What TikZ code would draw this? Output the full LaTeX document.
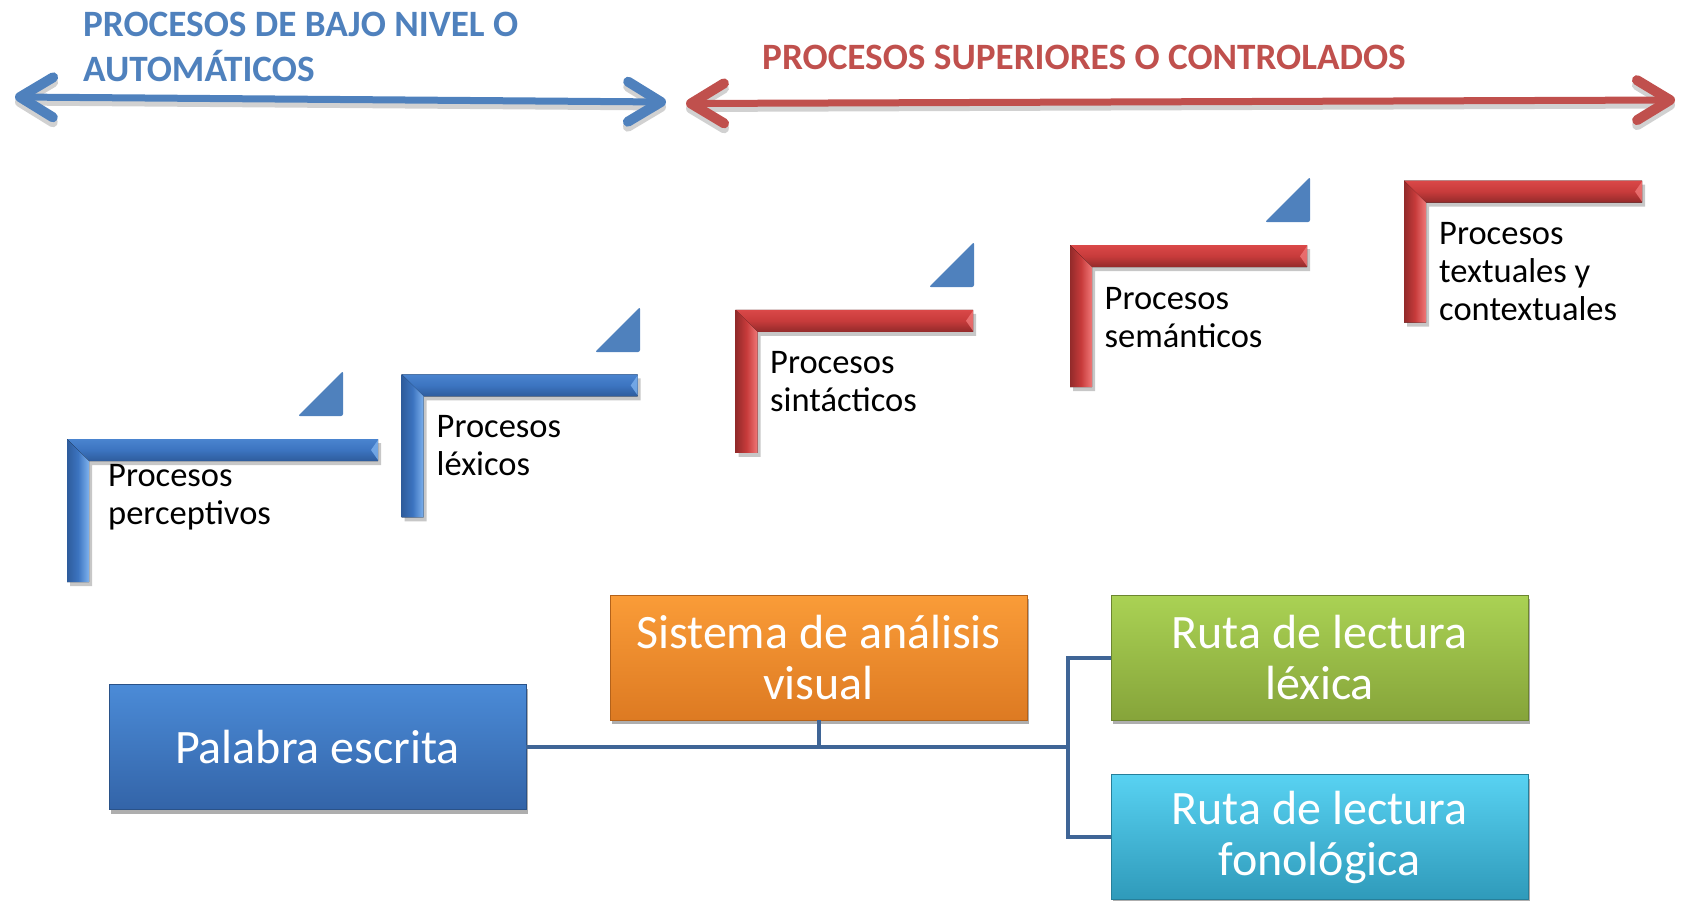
\documentclass[tikz,border=0pt]{standalone}
\usepackage{fontspec}
\setmainfont{Carlito}
\usetikzlibrary{arrows.meta,shadows}
\definecolor{hblue}{HTML}{4F81BD}
\definecolor{hred}{HTML}{C0504D}
\definecolor{bmain}{HTML}{3C74C0}
\definecolor{blight}{HTML}{4A84CF}
\definecolor{bdark}{HTML}{2E5C9C}
\definecolor{bhi}{HTML}{7EB2EE}
\definecolor{rmain}{HTML}{C73B3B}
\definecolor{rlight}{HTML}{DA4848}
\definecolor{rdark}{HTML}{922A2A}
\definecolor{rhi}{HTML}{F07878}
\definecolor{conncol}{HTML}{3F6596}
\definecolor{palt}{HTML}{4B8BD7}
\definecolor{palb}{HTML}{3364A8}
\definecolor{pald}{HTML}{2A5288}
\definecolor{orat}{HTML}{FA9C38}
\definecolor{orab}{HTML}{DD7A22}
\definecolor{orad}{HTML}{B4621A}
\definecolor{gret}{HTML}{AAD254}
\definecolor{greb}{HTML}{86A43A}
\definecolor{gred}{HTML}{6C8630}
\definecolor{cyat}{HTML}{58D2F2}
\definecolor{cyab}{HTML}{2F9ABA}
\definecolor{cyad}{HTML}{267F9A}
\newcommand{\stepL}[5]{%
\begin{scope}[shift={(#1,#2)}]
 \fill[black,opacity=0.22] (3,4) -- ++(#3,0) -- ++(0,22) -- ++(-#3+22,0) -- ++(0,#4-22) -- ++(-22,0) -- cycle;
 \fill[top color=#5light, bottom color=#5dark, middle color=#5main] (0,0) -- (#3,0) -- (#3,22) -- (22,22) -- cycle;
 \fill[left color=#5dark, right color=#5hi, middle color=#5main] (0,0) -- (22,22) -- (22,#4) -- (0,#4) -- cycle;
 \fill[#5hi,opacity=0.8] (#3,1) -- (#3,21) -- (#3-7,11) -- cycle;
\end{scope}}
\begin{document}
\begin{tikzpicture}[x=1pt,y=-1pt,
  lbl/.style={font=\fontsize{34.5}{38}\selectfont, align=left, inner sep=0pt, anchor=north west, text=black},
  hdr/.style={font=\bfseries\fontsize{37.2}{45}\selectfont, align=left, inner sep=0pt},
  arr/.style={line width=7pt, line cap=round,
     {Straight Barb[length=33pt,width=40pt,line width=10pt,round]}-{Straight Barb[length=33pt,width=40pt,line width=10pt,round]}},
  arrshadow/.style={arr, black, opacity=0.18, transform canvas={yshift=-5pt}},
  tri/.style={fill=hblue, rounded corners=2pt},
  box/.style={minimum width=417pt, minimum height=125pt, inner sep=0pt, align=center,
     text=white, font=\fontsize{48}{51}\selectfont, line width=0.8pt,
     drop shadow={shadow xshift=2pt, shadow yshift=-4pt, opacity=0.45, fill=black!70}},
  conn/.style={draw=conncol, line width=4pt}]
\useasboundingbox (0,0) rectangle (1686,900);

% headers
\node[hdr, text=hblue, anchor=north west] (hb) at (83,12) {PROCESOS DE BAJO NIVEL O\\AUTOMÁTICOS};
\node[hdr, text=hred, anchor=base west] (hr) at (762,69) {PROCESOS SUPERIORES O CONTROLADOS};

% arrows
\coordinate (bl) at (15,97);
\coordinate (br) at (666,102);
\coordinate (rl) at (686,103.5);
\coordinate (rr) at (1675,100);
\draw[arrshadow] (bl) -- (br);
\draw[arrshadow] (rl) -- (rr);
\draw[arr, hblue] (bl) -- (br);
\draw[arr, hred] (rl) -- (rr);

% steps
\stepL{67}{439}{311}{143}{b}
\stepL{401.7}{374.4}{236}{143}{b}
\stepL{735.5}{309.8}{237.5}{143}{r}
\stepL{1070}{245.2}{237}{142}{r}
\stepL{1404}{180.6}{238}{142}{r}

\fill[tri] (343,416) -- (298,416) -- (343,371) -- cycle;
\fill[tri] (640,352) -- (595,352) -- (640,307) -- cycle;
\fill[tri] (974,287) -- (929,287) -- (974,242) -- cycle;
\fill[tri] (1310,222) -- (1265,222) -- (1310,177) -- cycle;

\node[lbl] (t1) at (108,464) {Procesos\\perceptivos};
\node[lbl] (t2) at (436.5,415) {Procesos\\léxicos};
\node[lbl] (t3) at (770,351) {Procesos\\sintácticos};
\node[lbl] (t4) at (1104.5,287) {Procesos\\semánticos};
\node[lbl] (t5) at (1439,222) {Procesos\\textuales y\\contextuales};

% bottom boxes
\node[box, top color=palt, bottom color=palb, draw=pald] (pal) at (317.5,747) {Palabra escrita};
\node[box, top color=orat, bottom color=orab, draw=orad] (sis) at (818.5,657.5) {Sistema de análisis\\visual};
\node[box, top color=gret, bottom color=greb, draw=gred] (lex) at (1319.5,657.5) {Ruta de lectura\\léxica};
\node[box, top color=cyat, bottom color=cyab, draw=cyad] (fon) at (1319.5,837) {Ruta de lectura\\fonológica};

\coordinate (j) at (1068,747);
\draw[conn] (pal.east) -- (j);
\draw[conn] (sis.south) -- (sis.south |- j);
\draw[conn] (lex.west) -| (j) |- (fon.west);
\end{tikzpicture}
\end{document}
